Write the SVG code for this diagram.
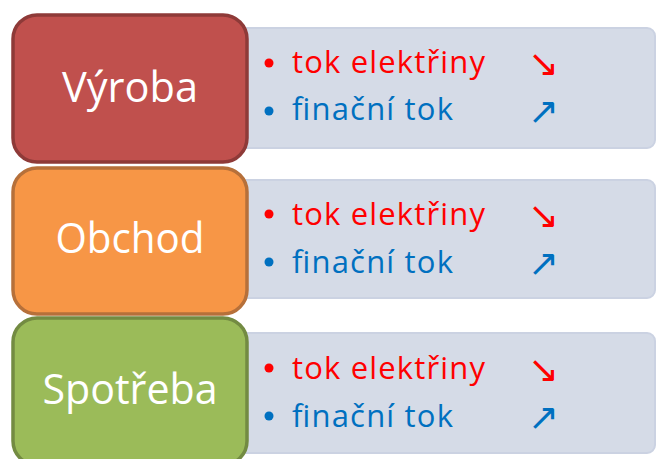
<svg xmlns="http://www.w3.org/2000/svg" width="656" height="459" viewBox="0 0 656 459">
<style>
.panel{fill:#D5DBE7;stroke:#CBD2E2;stroke-width:2}
.box{stroke-width:3.5}
.lbl{font-family:"Open Sans","Liberation Sans",sans-serif;font-size:42px;fill:#FFFFFF;text-anchor:middle}
.it{font-family:"Open Sans","Liberation Sans",sans-serif;font-size:31px}
.arr{font-family:"DejaVu Sans",sans-serif;font-size:37px}
.r{fill:#FF0000}
.b{fill:#0070C0}
</style>
<rect width="656" height="459" fill="#FFFFFF"/>
<g id="panel-vyroba">
<rect class="panel" x="230" y="28" width="425" height="120" rx="8"/>
<circle class="r" cx="269" cy="63" r="4.5"/>
<text class="it r" x="292" y="73" textLength="193" lengthAdjust="spacing">tok elektřiny</text>
<text class="arr r" x="528" y="76">↘</text>
<circle class="b" cx="269" cy="111" r="4.5"/>
<text class="it b" x="292" y="120" textLength="161" lengthAdjust="spacing">finační tok</text>
<text class="arr b" x="528" y="124">↗</text>
</g>
<g id="panel-obchod">
<rect class="panel" x="230" y="180" width="425" height="118" rx="8"/>
<circle class="r" cx="269" cy="214" r="4.5"/>
<text class="it r" x="292" y="225" textLength="193" lengthAdjust="spacing">tok elektřiny</text>
<text class="arr r" x="528" y="228">↘</text>
<circle class="b" cx="269" cy="262" r="4.5"/>
<text class="it b" x="292" y="273" textLength="161" lengthAdjust="spacing">finační tok</text>
<text class="arr b" x="528" y="276">↗</text>
</g>
<g id="panel-spotreba">
<rect class="panel" x="230" y="333" width="425" height="120" rx="8"/>
<circle class="r" cx="269" cy="368" r="4.5"/>
<text class="it r" x="292" y="379" textLength="193" lengthAdjust="spacing">tok elektřiny</text>
<text class="arr r" x="528" y="382">↘</text>
<circle class="b" cx="269" cy="416" r="4.5"/>
<text class="it b" x="292" y="427" textLength="161" lengthAdjust="spacing">finační tok</text>
<text class="arr b" x="528" y="430">↗</text>
</g>
<g id="vyroba">
<rect class="box" x="13" y="15" width="234" height="147" rx="24" fill="#C0504D" stroke="#8E3A38"/>
<text class="lbl" x="130" y="102" textLength="136" lengthAdjust="spacingAndGlyphs">Výroba</text>
</g>
<g id="obchod">
<rect class="box" x="13" y="168" width="234" height="146" rx="24" fill="#F79646" stroke="#B6703A"/>
<text class="lbl" x="130" y="253" textLength="149" lengthAdjust="spacingAndGlyphs">Obchod</text>
</g>
<g id="spotreba">
<rect class="box" x="13" y="318" width="234" height="147" rx="24" fill="#9BBB59" stroke="#738B42"/>
<text class="lbl" x="130" y="404" textLength="175" lengthAdjust="spacingAndGlyphs">Spotřeba</text>
</g>
<g id="connectors"/>
</svg>
